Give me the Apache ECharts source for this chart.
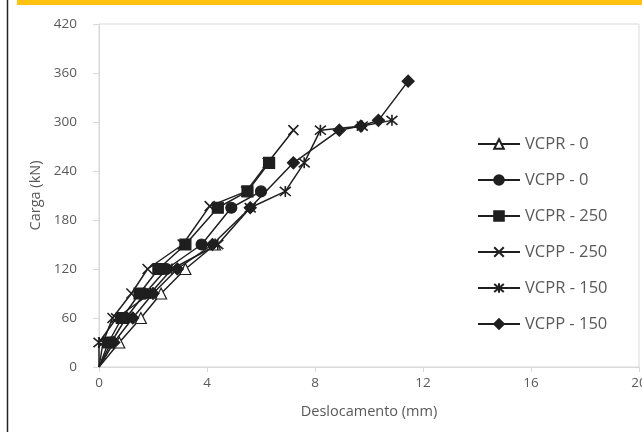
<!DOCTYPE html>
<html>
<head>
<meta charset="utf-8">
<script src="https://cdn.jsdelivr.net/npm/echarts@6/dist/echarts.min.js"></script>
<style>html,body{margin:0;padding:0;background:#fff;overflow:hidden}#c{width:642px;height:432px}</style>
</head>
<body>
<div id="c"></div>
<script>
// Displacement (mm) and load (kN)
const seriesNames = ['VCPR - 0', 'VCPP - 0', 'VCPR - 250', 'VCPP - 250', 'VCPR - 150', 'VCPP - 150'];

const vcpr0_x = [0, 0.75, 1.55, 2.3, 3.2, 4.3];
const vcpr0_y = [0, 30, 60, 90, 120, 150];

const vcpp0_x = [0, 0.45, 1.0, 1.7, 2.5, 3.8, 4.9, 6.0];
const vcpp0_y = [0, 30, 60, 90, 120, 150, 195, 215];

const vcpr250_x = [0, 0.35, 0.85, 1.5, 2.2, 3.2, 4.4, 5.5, 6.3];
const vcpr250_y = [0, 30, 60, 90, 120, 150, 195, 215, 250];

const vcpp250_x = [0, 0.15, 0.5, 1.2, 1.8, 3.1, 4.1, 5.45, 6.25, 7.2];
const vcpp250_y = [0, 30, 60, 90, 120, 150, 197, 215, 250, 290];

const vcpr150_x = [0, 0.0, 0.65, 1.9, 2.7, 4.4, 5.6, 6.9, 7.6, 8.2, 9.75, 10.85];
const vcpr150_y = [0, 30, 60, 90, 120, 150, 195, 215, 250, 290, 295, 302];

const vcpp150_x = [0, 0.55, 1.25, 2.0, 2.9, 4.2, 5.6, 7.2, 8.9, 9.7, 10.35, 11.45];
const vcpp150_y = [0, 30, 60, 90, 120, 150, 195, 250, 290, 295, 302, 350];

const xTicks = {min: 0, max: 20, interval: 4};
const yTicks = {min: 0, max: 420, interval: 60};

const INK = '#1f1f1f';
const symbols = [
  'triangle', 'circle', 'rect', 'path://M0,0L10,10M10,0L0,10',
  'path://M0,0L10,10M10,0L0,10M5,-1L5,11', 'diamond'
];
const symbolSizes = [11, 11, 11, 10, 11, 12];
const fills = ['#ffffff', INK, INK, 'transparent', 'transparent', INK];

function pairs(xs, ys) {
  return xs.map((x, i) => i === 0 ? {value: [x, ys[i]], symbol: 'none'} : [x, ys[i]]);
}
const allData = [
  pairs(vcpr0_x, vcpr0_y), pairs(vcpp0_x, vcpp0_y), pairs(vcpr250_x, vcpr250_y),
  pairs(vcpp250_x, vcpp250_y), pairs(vcpr150_x, vcpr150_y), pairs(vcpp150_x, vcpp150_y)
];

const chart = echarts.init(document.getElementById('c'), null, {renderer: 'canvas'});
const gray = '#d9d9d9';
const txt = '#595959';
chart.setOption({
  animation: false,
  backgroundColor: '#fff',
  textStyle: {fontFamily: 'Open Sans'},
  grid: {left: 99, right: 3, top: 24, bottom: 65, show: true, borderColor: gray, borderWidth: 1,
         backgroundColor: 'transparent', containLabel: false, outerBoundsMode: 'none'},
  xAxis: {
    type: 'value', min: xTicks.min, max: xTicks.max, interval: xTicks.interval,
    axisLine: {show: true, lineStyle: {color: gray, width: 1}},
    axisTick: {show: true, length: 5, lineStyle: {color: gray}},
    splitLine: {show: false},
    axisLabel: {color: txt, fontSize: 13.5, margin: 9, fontFamily: 'Open Sans', hideOverlap: false},
    name: 'Deslocamento (mm)', nameLocation: 'middle', nameGap: 37,
    nameTextStyle: {color: txt, fontSize: 14.5, fontFamily: 'Open Sans'}
  },
  yAxis: {
    type: 'value', min: yTicks.min, max: yTicks.max, interval: yTicks.interval,
    axisLine: {show: true, lineStyle: {color: gray, width: 1}},
    axisTick: {show: true, length: 6, lineStyle: {color: gray}},
    splitLine: {show: false},
    axisLabel: {color: txt, fontSize: 13.5, margin: 22, fontFamily: 'Open Sans'},
    name: 'Carga (kN)', nameLocation: 'middle', nameGap: 56,
    nameTextStyle: {color: txt, fontSize: 14.5, fontFamily: 'Open Sans'}
  },
  legend: {
    orient: 'vertical', left: 472, top: 130,
    itemWidth: 42, itemHeight: 12, itemGap: 18,
    textStyle: {color: txt, fontSize: 16.5, lineHeight: 18, fontFamily: 'Open Sans'},
    data: seriesNames
  },
  series: seriesNames.map((name, i) => ({
    name: name, type: 'line', data: allData[i],
    symbol: symbols[i], symbolSize: symbolSizes[i], showSymbol: true,
    lineStyle: {color: INK, width: 1.5},
    itemStyle: {color: fills[i], borderColor: INK, borderWidth: (i === 3 || i === 4) ? 1.6 : 1.2},
    z: 2 + i
  })),
  graphic: [
    {type: 'rect', shape: {x: 17, y: 0, width: 625, height: 5}, style: {fill: '#ffc20e'}, silent: true},
    {type: 'line', shape: {x1: 7.5, y1: 0, x2: 7.5, y2: 432}, style: {stroke: '#222', lineWidth: 1.5}, silent: true}
  ]
});
</script>
</body>
</html>
